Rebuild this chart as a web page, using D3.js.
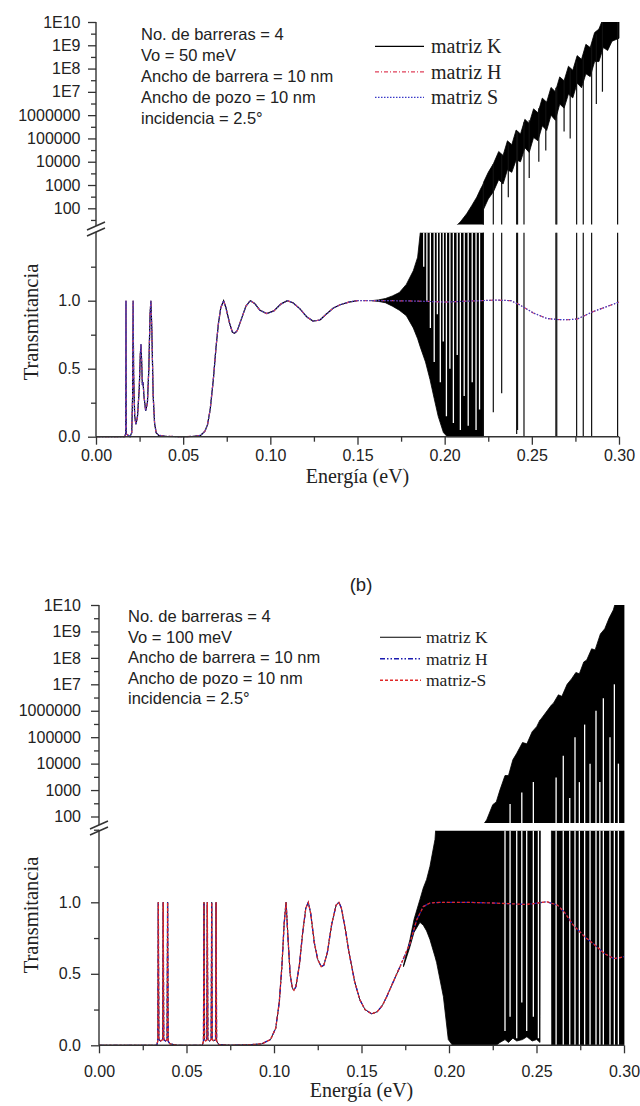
<!DOCTYPE html>
<html><head><meta charset="utf-8">
<script src="https://cdn.jsdelivr.net/npm/d3@7"></script>
<style>body{margin:0;background:#fff}</style>
</head><body><svg id="c" width="640" height="1106"></svg>
<script>
// ---------------- DATA ----------------
const xTickValues = [0, 0.05, 0.10, 0.15, 0.20, 0.25, 0.30];
const xTickLabels = ["0.00", "0.05", "0.10", "0.15", "0.20", "0.25", "0.30"];
const xMinorValues = [0.025, 0.075, 0.125, 0.175, 0.225, 0.275];
const linTickValues = [0, 0.5, 1.0];
const linTickLabels = ["0.0", "0.5", "1.0"];
const linMinorValues = [0.25, 0.75, 1.25];
const logTickValues = [1e2, 1e3, 1e4, 1e5, 1e6, 1e7, 1e8, 1e9, 1e10];
const logTickLabels = ["100", "1000", "10000", "100000", "1000000", "1E7", "1E8", "1E9", "1E10"];
const logMinorValues = [3.16e1, 3.16e2, 3.16e3, 3.16e4, 3.16e5, 3.16e6, 3.16e7, 3.16e8, 3.16e9];
const xTitle = "Energía (eV)";
const yTitle = "Transmitancia";

const infoA = ["No. de barreras = 4", "Vo = 50 meV", "Ancho de barrera = 10 nm", "Ancho de pozo = 10 nm", "incidencia = 2.5°"];
const infoB = ["No. de barreras = 4", "Vo = 100 meV", "Ancho de barrera = 10 nm", "Ancho de pozo = 10 nm", "incidencia = 2.5°"];
const legendA = ["matriz K", "matriz H", "matriz S"];
const legendB = ["matriz K", "matriz H", "matriz-S"];
const panelLabelB = "(b)";

// Panel A (Vo = 50 meV): H and S matrices coincide -> [E, T]
const smoothA = [[0,0],[0.0165,0],[0.0170,0.02],[0.0172,1.0],[0.0174,0.02],[0.0195,0.0],[0.0205,0.03],[0.0210,0.3],[0.0213,1.0],[0.0216,0.45],[0.0222,0.15],[0.0229,0.09],[0.0238,0.15],[0.0248,0.35],[0.0254,0.6],[0.0258,0.68],[0.0262,0.55],[0.0266,0.38],[0.0270,0.40],[0.0275,0.30],[0.0285,0.19],[0.0295,0.25],[0.0303,0.5],[0.0310,0.9],[0.0315,1.0],[0.0320,0.8],[0.0328,0.3],[0.0336,0.1],[0.0345,0.03],[0.0360,0.01],[0.0400,0.003],[0.0500,0.0],[0.0560,0.003],[0.0600,0.01],[0.0625,0.04],[0.0640,0.09],[0.0655,0.2],[0.0673,0.42],[0.0688,0.65],[0.0702,0.83],[0.0716,0.95],[0.0732,1.0],[0.0745,0.95],[0.0765,0.84],[0.0782,0.77],[0.0795,0.76],[0.0810,0.78],[0.0835,0.87],[0.0860,0.96],[0.0885,1.0],[0.0910,0.98],[0.0940,0.93],[0.0980,0.905],[0.1020,0.925],[0.1060,0.975],[0.1097,1.0],[0.1130,0.985],[0.1170,0.94],[0.1210,0.88],[0.1245,0.85],[0.1285,0.858],[0.1320,0.9],[0.1360,0.945],[0.1400,0.97],[0.1450,0.99],[0.1500,1.0],[0.1600,1.0],[0.1700,1.0],[0.1800,0.998],[0.1900,0.995],[0.2000,0.99],[0.2100,0.995],[0.2200,1.0],[0.2300,1.005],[0.2380,1.0],[0.2430,0.97],[0.2508,0.91],[0.2585,0.87],[0.2640,0.862],[0.2700,0.86],[0.2760,0.865],[0.2852,0.92],[0.2929,0.956],[0.3000,0.99]];
// K matrix: same as smoothA up to onset, then an oscillation band [E, low, high]
const kOnsetA = 0.158;
const kBandA = [[0.158,1.0,1.0],[0.162,0.995,1.006],[0.166,0.985,1.016],[0.170,0.96,1.035],[0.174,0.93,1.06],[0.178,0.89,1.12],[0.182,0.80,1.22],[0.1845,0.72,1.32],[0.186,0.66,1.5],[0.189,0.55,1.9],[0.1916,0.42,2.4],[0.194,0.28,3],[0.1963,0.15,4],[0.1993,0.03,6],[0.2015,0,9],[0.205,0,14],[0.2088,0,25],[0.2126,0,58],[0.2155,0,130],[0.2184,0,300],[0.2205,0,650],[0.2221,0,1100],[0.2223,90,1300],[0.2250,250,3500],[0.228,520,8300],[0.231,1700,2.75e4],[0.2335,1100,1.86e4],[0.236,4500,7.9e4],[0.2385,3500,5.4e4],[0.241,1.2e4,2.3e5],[0.2435,1.0e4,1.55e5],[0.246,4.0e4,6.6e5],[0.2485,2.5e4,4.4e5],[0.251,1.1e5,1.86e6],[0.2535,8.0e4,1.26e6],[0.256,3.5e5,5.4e6],[0.2585,2.2e5,3.6e6],[0.261,1.0e6,1.55e7],[0.2635,6.0e5,1.02e7],[0.266,3.0e6,4.4e7],[0.2685,2.0e6,3.0e7],[0.271,8.0e6,1.26e8],[0.2735,5.5e6,8.5e7],[0.276,2.4e7,3.6e8],[0.2785,1.5e7,2.5e8],[0.281,6.0e7,1.1e9],[0.2835,4.5e7,8.0e8],[0.286,2.0e8,3.5e9],[0.2885,2.0e8,5.0e9],[0.291,8.0e8,1.5e10],[0.2935,6.0e8,1.2e10],[0.296,1.5e9,3.0e10],[0.300,2.0e9,3.0e10]];
// isolated K oscillations reaching low values [E, low, high]
const kSpikesA = [[0.2222,0,1100],[0.2279,0.18,8000],[0.2327,0.32,2e4],[0.2365,300,6e4],[0.2413,0.02,2e5],[0.2418,0.05,2e5],[0.2455,0,5e5],[0.2485,2000,6e5],[0.2540,1.0e4,2e6],[0.2580,3.0e4,4e6],[0.2638,0,1.5e7],[0.2643,0,1.5e7],[0.2685,2e5,3e7],[0.2720,1e5,1e8],[0.2757,0,2e8],[0.2795,0,3e8],[0.2843,0,1e9],[0.2870,3e6,3e9],[0.2905,1e7,1e10],[0.2992,0,3e10]];
// uncovered stretches between K oscillations [E, from, to]
const kGapsA = [[0.1880,1.25,2],[0.1898,1.0,2],[0.1918,0.8,2],[0.1940,0.55,2],[0.1958,0.9,2],[0.1975,0.4,2],[0.1992,0.7,2],[0.2010,0.15,2],[0.2030,0.5,2],[0.2050,0.1,2],[0.2072,0.6,2],[0.2090,0.05,2],[0.2112,0.3,2],[0.2135,0.08,2],[0.2158,0.4,2],[0.2180,0.05,2],[0.2200,0.2,2]];

// Panel B (Vo = 100 meV)
const smoothB = [[0,0],[0.0330,0],[0.0336,0.03],[0.0339,1.0],[0.0342,0.04],[0.0352,0.03],[0.0364,0.04],[0.0367,1.0],[0.0370,0.04],[0.0380,0.03],[0.0389,0.04],[0.0392,1.0],[0.0395,0.03],[0.0405,0.01],[0.0450,0.0],[0.0590,0.0],[0.0597,0.03],[0.0600,1.0],[0.0603,0.04],[0.0610,0.03],[0.0616,0.04],[0.0619,1.0],[0.0622,0.04],[0.0632,0.03],[0.0641,0.04],[0.0644,1.0],[0.0647,0.04],[0.0656,0.03],[0.0666,0.04],[0.0669,1.0],[0.0672,0.03],[0.0685,0.005],[0.0750,0.0],[0.0850,0.003],[0.0930,0.01],[0.0980,0.04],[0.1010,0.12],[0.1030,0.3],[0.1045,0.55],[0.1058,0.85],[0.1069,1.0],[0.1080,0.75],[0.1092,0.5],[0.1105,0.4],[0.1114,0.385],[0.1125,0.41],[0.1145,0.56],[0.1165,0.8],[0.1182,0.96],[0.1196,1.0],[0.1210,0.92],[0.1230,0.72],[0.1250,0.6],[0.1270,0.55],[0.1285,0.56],[0.1305,0.65],[0.1330,0.85],[0.1355,0.98],[0.1371,1.0],[0.1385,0.96],[0.1405,0.83],[0.1430,0.64],[0.1460,0.45],[0.1490,0.32],[0.1520,0.25],[0.1558,0.22],[0.1590,0.235],[0.1620,0.28],[0.1644,0.34],[0.1680,0.44],[0.1720,0.55],[0.1777,0.713],[0.1815,0.876],[0.1853,0.97],[0.1891,0.995],[0.1950,1.0],[0.2100,1.0],[0.2250,0.995],[0.2350,0.99],[0.2430,0.985],[0.2480,0.99],[0.2558,1.004],[0.2620,0.98],[0.2660,0.93],[0.2710,0.84],[0.2775,0.76],[0.2844,0.69],[0.2890,0.64],[0.2939,0.608],[0.2970,0.61],[0.3000,0.62]];
const kOnsetB = 0.174;
const kBandB = [[0.174,0.55,0.56],[0.1777,0.69,0.74],[0.1800,0.79,0.88],[0.1834,0.86,1.02],[0.1853,0.84,1.10],[0.1872,0.80,1.16],[0.1891,0.74,1.25],[0.192,0.62,1.44],[0.1929,0.58,1.6],[0.1968,0.34,2.5],[0.1996,0.04,3.5],[0.202,0,4.5],[0.206,0,7],[0.210,0,11],[0.214,0,18],[0.218,0,35],[0.2215,0,74],[0.2250,0,280],[0.2270,0,355],[0.2291,0.02,1000],[0.2320,0.04,3550],[0.2340,0.02,3550],[0.2365,0.05,1.4e4],[0.2387,0.03,2.45e4],[0.2420,0.04,6.3e4],[0.2445,0.06,5.6e4],[0.2475,0.03,1.6e5],[0.2501,0.04,2.5e5],[0.2520,0.02,4.5e5],[0.2523,40,4.6e5],[0.2584,40,1.6e6],[0.2587,0,1.7e6],[0.2596,0,1.9e6],[0.2625,0,4e6],[0.2645,0,3.5e6],[0.2675,0,1e7],[0.2700,0,1.6e7],[0.2725,0,2.8e7],[0.2745,0,2.5e7],[0.2770,0,7e7],[0.2787,0,8.3e7],[0.2815,0,2.2e8],[0.2835,0,2e8],[0.2865,0,8e8],[0.2890,0,1.26e9],[0.2915,0,3.2e9],[0.2939,0,6.5e9],[0.2960,0,2e10],[0.3000,0,3e10]];
const kSpikesB = [];
const kGapsB = [[0.2320,0.1,2],[0.2349,0.2,300],[0.2387,0.05,2],[0.2416,0.3,800],[0.2444,0.1,2],[0.2482,0.2,2000],[0.2511,0.05,2],[0.2612,0,3e3],[0.2653,0,2e4],[0.2690,0,500],[0.2720,0,1e5],[0.2745,0,2e3],[0.2775,0,3e5],[0.2806,0,1e4],[0.2840,0,1e6],[0.2862,0,2e3],[0.2882,0,3e6],[0.2920,0,1e5],[0.2945,0,1e7],[0.2968,0,1e4]];

// ---------------- RENDER ----------------
const svg = d3.select("#c");
const defs = svg.append("defs");
const SANS = "'Liberation Sans', Arial, sans-serif";
const SERIF = "'Liberation Serif', 'Times New Roman', serif";
const AX = "#333";

function panel(cfg, id) {
  const x = d3.scaleLinear().domain([0, 0.3]).range(cfg.xr);
  const yLin = d3.scaleLinear().domain([0, 1.5]).range(cfg.linr);
  const yLog = d3.scaleLog().domain([1e2, 1e10]).range(cfg.logr);
  const linV = v => yLin(Math.min(v, 2.5));
  const logV = v => yLog(Math.max(v, 1));

  defs.append("clipPath").attr("id", "lin" + id).append("rect")
    .attr("x", cfg.xr[0]).attr("y", cfg.linr[1]).attr("width", cfg.xr[1] - cfg.xr[0] + 1).attr("height", cfg.linr[0] - cfg.linr[1] + 2);
  defs.append("clipPath").attr("id", "log" + id).append("rect")
    .attr("x", cfg.xr[0]).attr("y", cfg.logClip[0]).attr("width", cfg.xr[1] - cfg.xr[0] + 1).attr("height", cfg.logClip[1] - cfg.logClip[0]);

  const gLin = svg.append("g").attr("clip-path", `url(#lin${id})`);
  const gLog = svg.append("g").attr("clip-path", `url(#log${id})`);

  const kLine = cfg.smooth.filter(d => d[0] <= cfg.onset);
  gLin.append("path").datum(kLine)
    .attr("d", d3.line().x(d => x(d[0])).y(d => yLin(d[1])))
    .attr("fill", "none").attr("stroke", "#000").attr("stroke-width", cfg.kW);

  gLin.append("path").datum(cfg.band)
    .attr("d", d3.area().x(d => x(d[0])).y0(d => linV(d[1])).y1(d => linV(d[2])))
    .attr("fill", "#000").attr("stroke", "#000").attr("stroke-width", 0.8);
  gLog.append("path").datum(cfg.band)
    .attr("d", d3.area().x(d => x(d[0])).y0(d => logV(d[1])).y1(d => logV(d[2])))
    .attr("fill", "#000").attr("stroke", "#000").attr("stroke-width", 0.8);

  [[gLin, linV], [gLog, logV]].forEach(([g, f]) => {
    g.selectAll("line.gap").data(cfg.gaps).join("line").attr("class", "gap")
      .attr("x1", d => x(d[0])).attr("x2", d => x(d[0]))
      .attr("y1", d => f(d[1])).attr("y2", d => f(d[2]))
      .attr("stroke", "#fff").attr("stroke-width", 1.3);
    g.selectAll("line.sp").data(cfg.spikes).join("line").attr("class", "sp")
      .attr("x1", d => x(d[0])).attr("x2", d => x(d[0]))
      .attr("y1", d => f(d[1])).attr("y2", d => f(d[2]))
      .attr("stroke", "#111").attr("stroke-width", 1.2);
  });

  const lineGen = d3.line().x(d => x(d[0])).y(d => yLin(d[1]));
  cfg.styles.slice(1).forEach(s => {
    gLin.append("path").datum(cfg.smooth).attr("d", lineGen)
      .attr("fill", "none").attr("stroke", s.c).attr("stroke-width", s.w).attr("stroke-dasharray", s.dash);
  });

  const styleAxis = (g) => {
    g.selectAll("line").attr("stroke", AX).attr("stroke-width", 1.3);
    g.selectAll("path.domain").remove();
    g.selectAll("text").attr("fill", "#222").attr("font-family", SANS).attr("font-size", 16);
  };
  const xa = svg.append("g").attr("transform", `translate(0,${cfg.linr[0]})`)
    .call(d3.axisBottom(x).tickValues(xTickValues).tickFormat((d, i) => xTickLabels[i]).tickSize(8).tickPadding(cfg.xPad));
  styleAxis(xa);
  const xm = svg.append("g").attr("transform", `translate(0,${cfg.linr[0]})`)
    .call(d3.axisBottom(x).tickValues(xMinorValues).tickFormat("").tickSize(5));
  styleAxis(xm);
  svg.append("line").attr("x1", cfg.xr[0]).attr("x2", cfg.xr[1]).attr("y1", cfg.linr[0]).attr("y2", cfg.linr[0])
    .attr("stroke", AX).attr("stroke-width", 1.4);

  const ya = svg.append("g").attr("transform", `translate(${cfg.xr[0]},0)`)
    .call(d3.axisLeft(yLin).tickValues(linTickValues).tickFormat((d, i) => linTickLabels[i]).tickSize(8).tickPadding(cfg.yPad));
  styleAxis(ya);
  const ym = svg.append("g").attr("transform", `translate(${cfg.xr[0]},0)`)
    .call(d3.axisLeft(yLin).tickValues(linMinorValues).tickFormat("").tickSize(5));
  styleAxis(ym);
  const yl = svg.append("g").attr("transform", `translate(${cfg.xr[0]},0)`)
    .call(d3.axisLeft(yLog).tickValues(logTickValues).tickFormat((d, i) => logTickLabels[i]).tickSize(8).tickPadding(cfg.yPad));
  styleAxis(yl);
  const ylm = svg.append("g").attr("transform", `translate(${cfg.xr[0]},0)`)
    .call(d3.axisLeft(yLog).tickValues(logMinorValues).tickFormat("").tickSize(5));
  styleAxis(ylm);
  svg.append("line").attr("x1", cfg.xr[0]).attr("x2", cfg.xr[0]).attr("y1", cfg.linr[1] - 1).attr("y2", cfg.linr[0])
    .attr("stroke", AX).attr("stroke-width", 1.4);
  svg.append("line").attr("x1", cfg.xr[0]).attr("x2", cfg.xr[0]).attr("y1", cfg.logr[1]).attr("y2", cfg.brk[0])
    .attr("stroke", AX).attr("stroke-width", 1.4);
  cfg.brk.forEach(yc => {
    svg.append("line").attr("x1", cfg.xr[0] - 9).attr("x2", cfg.xr[0] + 9).attr("y1", yc + 4).attr("y2", yc - 4)
      .attr("stroke", AX).attr("stroke-width", 1.4);
  });

  svg.append("text").attr("x", (cfg.xr[0] + cfg.xr[1]) / 2).attr("y", cfg.xTitleY).attr("text-anchor", "middle")
    .attr("font-family", SERIF).attr("font-size", 20).attr("fill", "#222").text(xTitle);
  svg.append("text").attr("transform", `translate(${cfg.yTitleX},${cfg.yTitleY}) rotate(-90)`).attr("text-anchor", "middle")
    .attr("font-family", SERIF).attr("font-size", 20.5).attr("fill", "#222").text(yTitle);

  cfg.info.forEach((t, i) => {
    svg.append("text").attr("x", cfg.infoX).attr("y", cfg.infoY + i * cfg.infoDy)
      .attr("font-family", SANS).attr("font-size", 16.5).attr("fill", "#222").text(t);
  });

  cfg.legend.forEach((t, i) => {
    const s = cfg.styles[i];
    const yb = cfg.legY[i];
    svg.append("line").attr("x1", cfg.legLine[0]).attr("x2", cfg.legLine[1]).attr("y1", yb - cfg.legFont * 0.33).attr("y2", yb - cfg.legFont * 0.33)
      .attr("stroke", s.c).attr("stroke-width", s.lw).attr("stroke-dasharray", s.dash);
    svg.append("text").attr("x", cfg.legTextX).attr("y", yb).attr("font-family", SERIF).attr("font-size", cfg.legFont)
      .attr("fill", "#222").text(t);
  });
}

panel({
  smooth: smoothA, band: kBandA, spikes: kSpikesA, gaps: kGapsA, onset: kOnsetA, kW: 1.2,
  xr: [96, 619], linr: [436.7, 232.7], logr: [208.3, 22], logClip: [22, 224.5], brk: [226, 232],
  xPad: 5, yPad: 7.5, xTitleY: 483, yTitleX: 38, yTitleY: 322,
  info: infoA, infoX: 141, infoY: 39.5, infoDy: 21.2,
  legend: legendA, legLine: [375, 424], legTextX: 431, legY: [53, 78.5, 104], legFont: 20,
  styles: [
    { c: "#000", w: 1.2, lw: 1.3, dash: null },
    { c: "#e0405a", w: 1.2, lw: 1.4, dash: "4,2,1,2" },
    { c: "#3a3ac8", w: 1.2, lw: 1.4, dash: "1.5,1.5" }
  ]
}, "A");

panel({
  smooth: smoothB, band: kBandB, spikes: kSpikesB, gaps: kGapsB, onset: kOnsetB, kW: 0.9,
  xr: [99, 624], linr: [1045.3, 830.8], logr: [816.5, 605], logClip: [605, 823], brk: [825, 831],
  xPad: 12, yPad: 10, xTitleY: 1097, yTitleX: 38, yTitleY: 915,
  info: infoB, infoX: 128, infoY: 622, infoDy: 20.5,
  legend: legendB, legLine: [380, 421], legTextX: 426, legY: [643, 664.5, 686], legFont: 17.5,
  styles: [
    { c: "#000", w: 0.9, lw: 1.1, dash: null },
    { c: "#1a1ab0", w: 1.3, lw: 1.6, dash: "5,2,1.5,2,1.5,2" },
    { c: "#e02828", w: 1.3, lw: 1.4, dash: "3,2" }
  ]
}, "B");

svg.append("text").attr("x", 361).attr("y", 591).attr("text-anchor", "middle")
  .attr("font-family", SANS).attr("font-size", 18.5).attr("fill", "#222").text(panelLabelB);
</script>
</body></html>
